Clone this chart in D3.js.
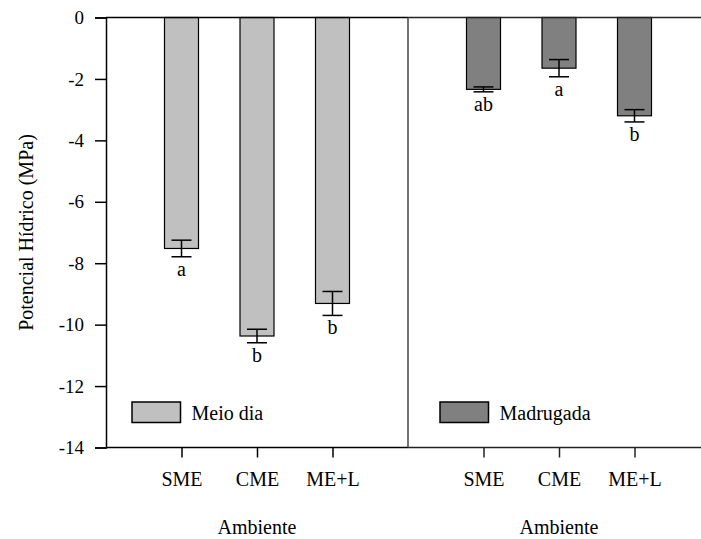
<!DOCTYPE html>
<html>
<head>
<meta charset="utf-8">
<script src="https://cdn.jsdelivr.net/npm/d3@7"></script>
<style>
  body { margin: 0; background: #fff; }
</style>
</head>
<body>
<div id="chart"></div>
<script>
// data
const categories = ['SME', 'CME', 'ME+L'];
const meioDia = [-7.52, -10.37, -9.31];
const meioDiaErr = [0.27, 0.22, 0.39];
const meioDiaLetters = ['a', 'b', 'b'];
const madrugada = [-2.34, -1.65, -3.20];
const madrugadaErr = [0.08, 0.28, 0.20];
const madrugadaLetters = ['ab', 'a', 'b'];
const yTicks = [0, -2, -4, -6, -8, -10, -12, -14];

const fontFamily = "'Liberation Serif'";
const width = 701, height = 539;
const margin = { top: 17.5, left: 106, bottom: 91.5 };
const panelWidth = 302;
const plotBottom = height - margin.bottom;

const svg = d3.select('#chart').append('svg')
  .attr('width', width)
  .attr('height', height);

const y = d3.scaleLinear()
  .domain([-14, 0])
  .range([plotBottom, margin.top]);

const panels = [
  { name: 'Meio dia', values: meioDia, err: meioDiaErr, letters: meioDiaLetters,
    fill: '#c0c0c0', x0: margin.left, legendX: 132 },
  { name: 'Madrugada', values: madrugada, err: madrugadaErr, letters: madrugadaLetters,
    fill: '#808080', x0: margin.left + panelWidth, legendX: 440 }
];

const barWidth = 34;
const capWidth = 20;

panels.forEach((p, pi) => {
  const x = d3.scalePoint()
    .domain(categories)
    .range([p.x0 + panelWidth / 4, p.x0 + panelWidth * 3 / 4]);

  const g = svg.append('g');

  const rows = categories.map((c, i) => ({
    cat: c, value: p.values[i], err: p.err[i], letter: p.letters[i]
  }));

  // bars
  g.selectAll('rect.bar')
    .data(rows)
    .enter()
    .append('rect')
    .attr('class', 'bar')
    .attr('x', d => x(d.cat) - barWidth / 2)
    .attr('y', y(0))
    .attr('width', barWidth)
    .attr('height', d => y(d.value) - y(0))
    .attr('fill', p.fill)
    .attr('stroke', '#000')
    .attr('stroke-width', 1.2);

  // error bars
  const eb = g.selectAll('g.err')
    .data(rows)
    .enter()
    .append('g')
    .attr('class', 'err')
    .attr('stroke', '#000')
    .attr('stroke-width', 1.5);
  eb.append('line')
    .attr('x1', d => x(d.cat)).attr('x2', d => x(d.cat))
    .attr('y1', d => y(d.value + d.err)).attr('y2', d => y(d.value - d.err));
  [1, -1].forEach(s => {
    eb.append('line')
      .attr('x1', d => x(d.cat) - capWidth / 2).attr('x2', d => x(d.cat) + capWidth / 2)
      .attr('y1', d => y(d.value + s * d.err)).attr('y2', d => y(d.value + s * d.err));
  });

  // significance letters
  g.selectAll('text.letter')
    .data(rows)
    .enter()
    .append('text')
    .attr('class', 'letter')
    .attr('x', d => x(d.cat))
    .attr('y', d => y(d.value - d.err) + 19)
    .attr('text-anchor', 'middle')
    .style('font-size', '20px')
    .text(d => d.letter);

  // x axis
  const xAxis = svg.append('g')
    .attr('transform', `translate(0,${plotBottom})`)
    .call(d3.axisBottom(x).tickSize(10).tickPadding(14.3));
  xAxis.select('.domain').remove();
  xAxis.selectAll('.tick line')
    .attr('stroke', pi === 0 ? '#000' : '#222')
    .attr('stroke-width', 1.5);
  xAxis.selectAll('.tick text')
    .style('font-size', '20px');

  // x title
  svg.append('text')
    .attr('x', p.x0 + panelWidth / 2)
    .attr('y', 534)
    .attr('text-anchor', 'middle')
    .style('font-size', '20px')
    .text('Ambiente');

  // legend
  const lg = svg.append('g')
    .attr('transform', `translate(${p.legendX},${402})`);
  lg.append('rect')
    .attr('width', 48.5)
    .attr('height', 20.5)
    .attr('fill', p.fill)
    .attr('stroke', '#000')
    .attr('stroke-width', 1.5);
  lg.append('text')
    .attr('x', 59.5)
    .attr('y', 17.5)
    .style('font-size', '20px')
    .text(p.name);
});

// frame lines
const frame = svg.append('g').attr('fill', 'none');
frame.append('line')
  .attr('x1', margin.left).attr('x2', margin.left + panelWidth)
  .attr('y1', y(0)).attr('y2', y(0))
  .attr('stroke', '#000').attr('stroke-width', 1.5);
frame.append('line')
  .attr('x1', margin.left + panelWidth).attr('x2', width)
  .attr('y1', y(0)).attr('y2', y(0))
  .attr('stroke', '#222').attr('stroke-width', 1.3);
frame.append('line')
  .attr('x1', margin.left).attr('x2', margin.left + panelWidth)
  .attr('y1', y(-14)).attr('y2', y(-14))
  .attr('stroke', '#000').attr('stroke-width', 1.5);
frame.append('line')
  .attr('x1', margin.left + panelWidth).attr('x2', width)
  .attr('y1', y(-14)).attr('y2', y(-14))
  .attr('stroke', '#222').attr('stroke-width', 1.3);
frame.append('line')
  .attr('x1', margin.left + panelWidth).attr('x2', margin.left + panelWidth)
  .attr('y1', y(0)).attr('y2', y(-14))
  .attr('stroke', '#444').attr('stroke-width', 1.5);

// y axis
const yAxis = svg.append('g')
  .attr('transform', `translate(${margin.left},0)`)
  .call(d3.axisLeft(y).tickValues(yTicks).tickSize(11).tickPadding(11).tickFormat(d => String(d)));
yAxis.select('.domain').attr('stroke', '#000').attr('stroke-width', 1.5);
yAxis.selectAll('.tick line').attr('stroke', '#000').attr('stroke-width', 1.5);
yAxis.selectAll('.tick text')
  .style('font-size', '19px');

// y title
svg.append('text')
  .attr('transform', `translate(33,${(margin.top + plotBottom) / 2}) rotate(-90)`)
  .attr('text-anchor', 'middle')
  .style('font-size', '20px')
  .text('Potencial Hídrico (MPa)');

// serif everywhere
svg.selectAll('text')
  .style('font-family', fontFamily)
  .attr('fill', '#000');
</script>
</body>
</html>
